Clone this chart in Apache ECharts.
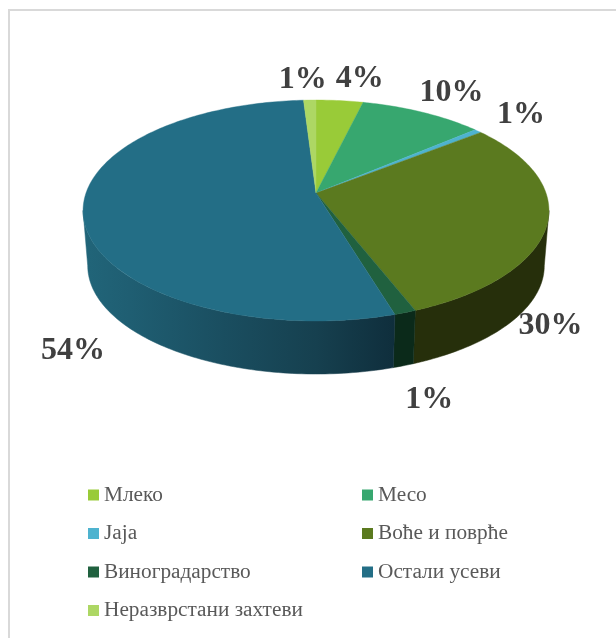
<!DOCTYPE html>
<html>
<head>
<meta charset="utf-8">
<style>html,body{margin:0;padding:0;background:#fff}#c{width:616px;height:638px}</style>
<script src="https://cdn.jsdelivr.net/npm/echarts@6/dist/echarts.min.js"></script>
</head>
<body>
<div id="c"></div>
<script>
// DATA
var categories = ['Млеко', 'Месо', 'Јаја', 'Воће и поврће', 'Виноградарство', 'Остали усеви', 'Неразврстани захтеви'];
var shares = [3.8, 10.0, 0.6, 29.6, 1.3, 53.7, 1.0];

// STYLE
var topColors = ['#99cb38', '#37a76f', '#4eb3cf', '#5b7a1f', '#20613f', '#236e86', '#add764'];
var wallStops = [
  [[0, '#5c7a22'], [1, '#5c7a22']],
  [[0, '#216443'], [1, '#216443']],
  [[0, '#2f6b7c'], [1, '#2f6b7c']],
  [[0, '#262f0b'], [1, '#262f0b']],
  [[0, '#0b2a1a'], [1, '#0b2a1a']],
  [[0, '#216579'], [0.15, '#1f5e72'], [0.45, '#1a4e60'], [0.75, '#16404f'], [1, '#0f2e3c']],
  [[0, '#68813c'], [1, '#68813c']]
];
// Label offset from the slice's mid-rim point
var labelOffsets = [[20, -22], [29, -20], [43, -16], [3, 103], [24, 87], [-10, 138], [-7, -20]];

// Perspective model of the pie
var P = { cx: 316, cy: 193, A: 230, B: 107.7, k: 0.1584, drop: 55.6, shrink: 0.98 };
var total = shares.reduce(function (a, b) { return a + b; }, 0);
var tangent = Math.acos(-P.k) / (2 * Math.PI);

function rim(frac, bottom) {
  var t = frac * 2 * Math.PI;
  var X = Math.sin(t), Y = -Math.cos(t);
  var f = 1 / (1 - P.k * Y);
  var s = bottom ? P.shrink : 1;
  return [P.cx + P.A * X * f * s, P.cy + (bottom ? P.drop : 0) + P.B * Y * f * s];
}
function arc(a, b, bottom) {
  var n = Math.max(2, Math.ceil((b - a) * 360)), pts = [];
  for (var i = 0; i <= n; i++) pts.push(rim(a + (b - a) * i / n, bottom));
  return pts;
}

var starts = [], acc = 0;
shares.forEach(function (v) { starts.push(acc / total); acc += v; });

var series = categories.map(function (name, i) {
  var a = starts[i], b = a + shares[i] / total;
  return {
    type: 'custom',
    name: name,
    coordinateSystem: 'none',
    animation: false,
    silent: true,
    z: 2,
    itemStyle: { color: topColors[i] },
    data: [[shares[i]]],
    renderItem: function () {
      var children = [];
      var wa = Math.max(a, tangent), wb = Math.min(b, 1 - tangent);
      if (wb > wa) {
        var pts = arc(wa, wb, false).concat(arc(wa, wb, true).reverse());
        var grad = new echarts.graphic.LinearGradient(
          Math.min.apply(null, pts.map(function (p) { return p[0]; })), 0,
          Math.max.apply(null, pts.map(function (p) { return p[0]; })), 0,
          wallStops[i].map(function (s) { return { offset: s[0], color: s[1] }; }), true);
        children.push({ type: 'polygon', shape: { points: pts }, style: { fill: grad, stroke: grad, lineWidth: 0.5 } });
      }
      var top = [[P.cx, P.cy]].concat(arc(a, b, false));
      children.push({ type: 'polygon', shape: { points: top }, style: { fill: topColors[i], stroke: topColors[i], lineWidth: 0.4 } });
      var m = rim((a + b) / 2, false);
      children.push({
        type: 'text', z2: 50,
        style: {
          x: m[0] + labelOffsets[i][0], y: m[1] + labelOffsets[i][1],
          text: Math.round(shares[i]) + '%',
          fill: '#404040', align: 'center', verticalAlign: 'middle',
          font: 'bold 32px "Liberation Serif"'
        }
      });
      return { type: 'group', children: children };
    }
  };
});

function legendCol(left, names) {
  return {
    orient: 'vertical', left: left, top: 483, padding: 0,
    icon: 'rect', itemWidth: 11, itemHeight: 11, itemGap: 14.5,
    selectedMode: false,
    textStyle: { fontFamily: 'Liberation Serif', fontSize: 21.3, color: '#595959', height: 19, lineHeight: 19, padding: [5, 0, 0, 0] },
    data: names
  };
}

var chart = echarts.init(document.getElementById('c'), null, { renderer: 'canvas' });
chart.setOption({
  backgroundColor: '#ffffff',
  animation: false,
  legend: [
    legendCol(88, categories.filter(function (_, i) { return i % 2 === 0; })),
    legendCol(362, categories.filter(function (_, i) { return i % 2 === 1; }))
  ],
  graphic: [{
    type: 'polyline', silent: true,
    shape: { points: [[9, 640], [9, 10], [620, 10]] },
    style: { stroke: '#d9d9d9', lineWidth: 2, fill: null }
  }],
  series: series
});
</script>
</body>
</html>
